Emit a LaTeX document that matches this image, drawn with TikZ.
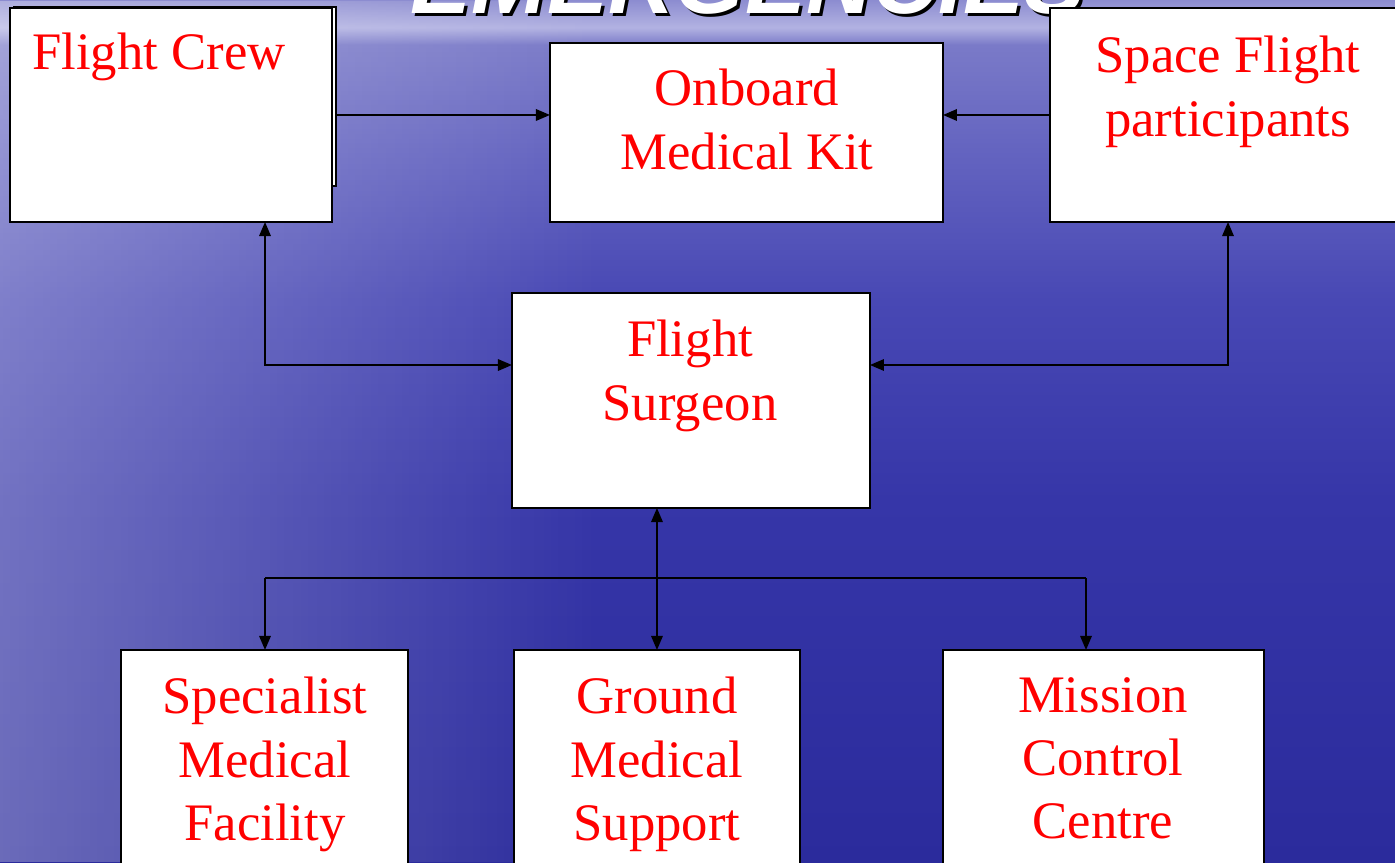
\documentclass[tikz,border=0pt]{standalone}
\usepackage{fontspec}
\setmainfont{Liberation Serif}
\newfontfamily\headfont{Liberation Sans}
\usepackage{xcolor}
\usepackage{tikz}
\usetikzlibrary{arrows.meta, fadings}
\definecolor{seabot}{RGB}{43, 43, 156}
\definecolor{seadeep}{RGB}{54, 54, 168}
\definecolor{seamid}{RGB}{72, 72, 180}
\definecolor{seaup}{RGB}{100, 100, 192}
\definecolor{seahaze}{RGB}{122, 122, 200}
\definecolor{seaband}{RGB}{178, 178, 226}
\definecolor{seatop}{RGB}{140, 140, 208}
\pgfdeclareverticalshading{seasky}{100bp}{color(0bp)=(seabot); color(25bp)=(seabot); color(46bp)=(seadeep); color(57.6bp)=(seamid); color(66.3bp)=(seaup); color(72.4bp)=(seahaze); color(73.4bp)=(seaband); color(75bp)=(seatop); color(100bp)=(seatop)}

\begin{document}
\begin{tikzpicture}[x=0.02cm, y=-0.02cm,
  box/.style={draw=black, fill=white, line width=1.1pt, inner sep=0pt, outer sep=0pt, anchor=north west},
  lbl/.style={text=red, font=\fontsize{30}{36}\selectfont, align=center, inner sep=0pt, anchor=north},
  head/.style={font=\headfont\bfseries\itshape\fontsize{52}{52}\selectfont, anchor=base, inner sep=0pt},
  link/.style={line width=1.1pt, -{Triangle[length=8pt,width=6.5pt]}},
  both/.style={line width=1.1pt, {Triangle[length=8pt,width=6.5pt]}-{Triangle[length=8pt,width=6.5pt]}}]
\useasboundingbox (0,0) rectangle (1395,862);
\clip (0,0) rectangle (1395,862);
% background
\shade[shading=seasky] (0,0) rectangle (1395,862);
\fill[white, opacity=0.3, path fading=east] (0,0) rectangle (600,862);
% title, cut at the top
\node[head, text=black] (titleshadow) at (751,16) {EMERGENCIES};
\node[head, text=white] (title) at (748,13) {EMERGENCIES};
% top row
\node[box, minimum width=6.44cm, minimum height=3.58cm] (crewback) at (14,7) {};
\node[box, minimum width=6.44cm, minimum height=4.28cm] (crew) at (10,8) {};
\node[box, minimum width=7.86cm, minimum height=3.58cm] (kit) at (550,43) {};
\node[box, minimum width=7.2cm, minimum height=4.28cm] (space) at (1050,8) {};
\node[lbl, anchor=north west] (crewtext) at (32,33) {Flight Crew};
\node[lbl] (kittext) at (747,69) {Onboard\\Medical Kit};
\node[lbl] (spacetext) at (1228,36) {Space Flight\\participants};
% middle
\node[box, minimum width=7.16cm, minimum height=4.3cm] (surgeon) at (512,293) {};
\node[lbl] (surgeontext) at (690,320) {Flight\\Surgeon};
% bottom row
\node[box, minimum width=5.74cm, minimum height=5.2cm] (spec) at (121,650) {};
\node[box, minimum width=5.72cm, minimum height=5.2cm] (ground) at (514,650) {};
\node[box, minimum width=6.42cm, minimum height=5.2cm] (mission) at (943,650) {};
\node[lbl] (spectext) at (265,677) {Specialist\\Medical\\Facility};
\node[lbl] (groundtext) at (657,677) {Ground\\Medical\\Support};
\node[lbl] (missiontext) at (1103,677) {Mission\\Control\\Centre};
% connectors
\coordinate (bendL) at (265,365);
\coordinate (bendR) at (1228,365);
\coordinate (busL) at (265,578);
\coordinate (busR) at (1086,578);
\draw[link] (crewback.east |- crew.east) -- (kit.west |- crew.east);
\draw[link] (space.west) -- (kit.east |- space.west);
\draw[both] (crew.south -| bendL) |- (surgeon.west |- bendL);
\draw[both] (space.south -| bendR) |- (surgeon.east |- bendR);
\draw[both] (surgeon.south -| ground.north) -- (ground.north);
\draw[line width=1.1pt] (busL) -- (busR);
\draw[link] (busL) -- (spec.north -| busL);
\draw[link] (busR) -- (mission.north -| busR);
\end{tikzpicture}
\end{document}
